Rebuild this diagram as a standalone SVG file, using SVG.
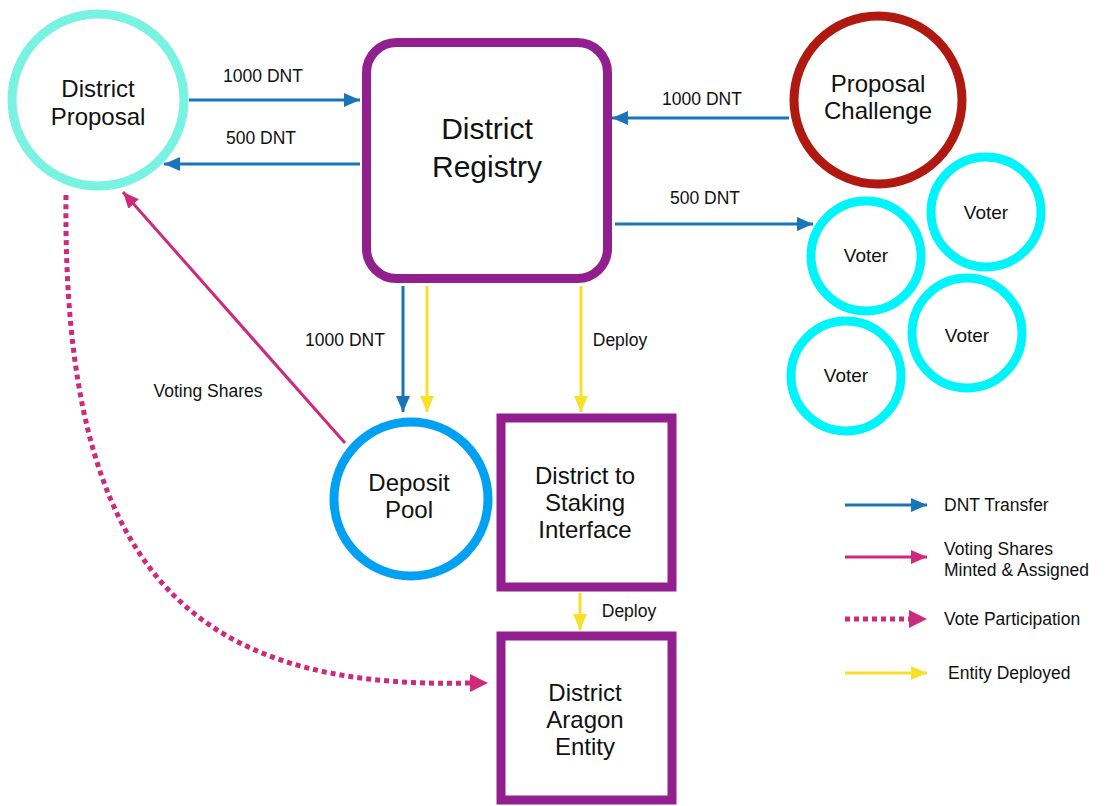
<svg xmlns="http://www.w3.org/2000/svg" width="1108" height="806" viewBox="0 0 1108 806">
<style>
text{font-family:"Liberation Sans",Arial,sans-serif;fill:#111;text-anchor:middle}
.lbl{font-size:17.5px}
.big{font-size:24px}
.reg{font-size:30px}
.voter{font-size:19px}
.blue{stroke:#1A74B9;stroke-width:3;fill:none}
.pink{stroke:#CC2A7C;stroke-width:3;fill:none}
.dot{stroke:#CC2A7C;stroke-width:5;fill:none;stroke-dasharray:5 4}
.yel{stroke:#F8DF2A;stroke-width:3;fill:none}
.box{fill:#fff;stroke:#921F8E;stroke-width:9}
.vc{fill:#fff;stroke:#00F4FC;stroke-width:9}
</style>
<defs>
<marker id="ab" markerUnits="userSpaceOnUse" markerWidth="18" markerHeight="16" refX="16" refY="7" orient="auto"><path d="M0,0 L16,7 L0,14 z" fill="#1A74B9"/></marker>
<marker id="ap" markerUnits="userSpaceOnUse" markerWidth="18" markerHeight="16" refX="16" refY="7" orient="auto"><path d="M0,0 L16,7 L0,14 z" fill="#CC2A7C"/></marker>
<marker id="ay" markerUnits="userSpaceOnUse" markerWidth="18" markerHeight="16" refX="16" refY="7" orient="auto"><path d="M0,0 L16,7 L0,14 z" fill="#F8DF2A"/></marker>
</defs>
<rect width="1108" height="806" fill="#fff"/>

<g id="connectors">
<line class="blue" x1="189" y1="100" x2="360" y2="100" marker-end="url(#ab)"/>
<text class="lbl" x="263" y="82">1000 DNT</text>
<line class="blue" x1="360" y1="164" x2="164" y2="164" marker-end="url(#ab)"/>
<text class="lbl" x="261" y="144">500 DNT</text>
<line class="blue" x1="789" y1="118" x2="612" y2="118" marker-end="url(#ab)"/>
<text class="lbl" x="702" y="105">1000 DNT</text>
<line class="blue" x1="615" y1="224" x2="813" y2="224" marker-end="url(#ab)"/>
<text class="lbl" x="705" y="204">500 DNT</text>
<line class="blue" x1="403" y1="286" x2="403" y2="412" marker-end="url(#ab)"/>
<text class="lbl" x="345" y="346">1000 DNT</text>
<line class="yel" x1="427" y1="286" x2="427" y2="412" marker-end="url(#ay)"/>
<line class="yel" x1="581" y1="286" x2="581" y2="412" marker-end="url(#ay)"/>
<text class="lbl" x="620" y="346">Deploy</text>
<line class="yel" x1="580" y1="593" x2="580" y2="630" marker-end="url(#ay)"/>
<text class="lbl" x="629" y="617">Deploy</text>
<line class="pink" x1="345" y1="443" x2="123" y2="192" marker-end="url(#ap)"/>
<text class="lbl" x="208" y="397">Voting Shares</text>
<path class="dot" d="M66,195 C62,570 190,690 470,683"/>
<path d="M470,674 L488,683 L470,692 z" fill="#CC2A7C"/>
</g>

<g id="district-proposal">
<circle cx="98" cy="100" r="86" fill="#fff" stroke="#78F3E1" stroke-width="9"/>
<text class="big" x="98" y="97">District</text>
<text class="big" x="98" y="125">Proposal</text>
</g>

<g id="district-registry">
<rect class="box" x="366.5" y="42.5" width="241" height="236" rx="30"/>
<text class="reg" x="487" y="139">District</text>
<text class="reg" x="487" y="177">Registry</text>
</g>

<g id="proposal-challenge">
<circle cx="878" cy="100" r="84" fill="#fff" stroke="#B0190F" stroke-width="9"/>
<text class="big" x="878" y="92">Proposal</text>
<text class="big" x="878" y="119">Challenge</text>
</g>

<g id="voter-1">
<circle class="vc" cx="866" cy="256" r="55"/>
<text class="voter" x="866" y="262">Voter</text>
</g>
<g id="voter-2">
<circle class="vc" cx="986" cy="212" r="55"/>
<text class="voter" x="986" y="219">Voter</text>
</g>
<g id="voter-3">
<circle class="vc" cx="967" cy="333" r="55"/>
<text class="voter" x="967" y="342">Voter</text>
</g>
<g id="voter-4">
<circle class="vc" cx="846" cy="376" r="55"/>
<text class="voter" x="846" y="382">Voter</text>
</g>

<g id="deposit-pool">
<circle cx="411" cy="499" r="77" fill="#fff" stroke="#00A0F2" stroke-width="9"/>
<text class="big" x="409" y="491">Deposit</text>
<text class="big" x="409" y="518">Pool</text>
</g>

<g id="staking-interface">
<rect class="box" x="501" y="418" width="171" height="169"/>
<text class="big" x="585" y="484">District to</text>
<text class="big" x="585" y="511">Staking</text>
<text class="big" x="585" y="538">Interface</text>
</g>

<g id="aragon-entity">
<rect class="box" x="501" y="636" width="171" height="164"/>
<text class="big" x="585" y="701">District</text>
<text class="big" x="585" y="728">Aragon</text>
<text class="big" x="585" y="755">Entity</text>
</g>

<g id="legend">
<line class="blue" x1="845" y1="505" x2="927" y2="505" marker-end="url(#ab)"/>
<text class="lbl" x="944" y="511" style="text-anchor:start">DNT Transfer</text>
<line class="pink" x1="845" y1="557" x2="927" y2="557" marker-end="url(#ap)"/>
<text class="lbl" x="944" y="555" style="text-anchor:start">Voting Shares</text>
<text class="lbl" x="944" y="576" style="text-anchor:start">Minted &amp; Assigned</text>
<path class="dot" d="M845,619 L911,619"/>
<path d="M909,610 L927,619 L909,628 z" fill="#CC2A7C"/>
<text class="lbl" x="944" y="625" style="text-anchor:start">Vote Participation</text>
<line class="yel" x1="845" y1="673" x2="927" y2="673" marker-end="url(#ay)"/>
<text class="lbl" x="948" y="679" style="text-anchor:start">Entity Deployed</text>
</g>
</svg>
